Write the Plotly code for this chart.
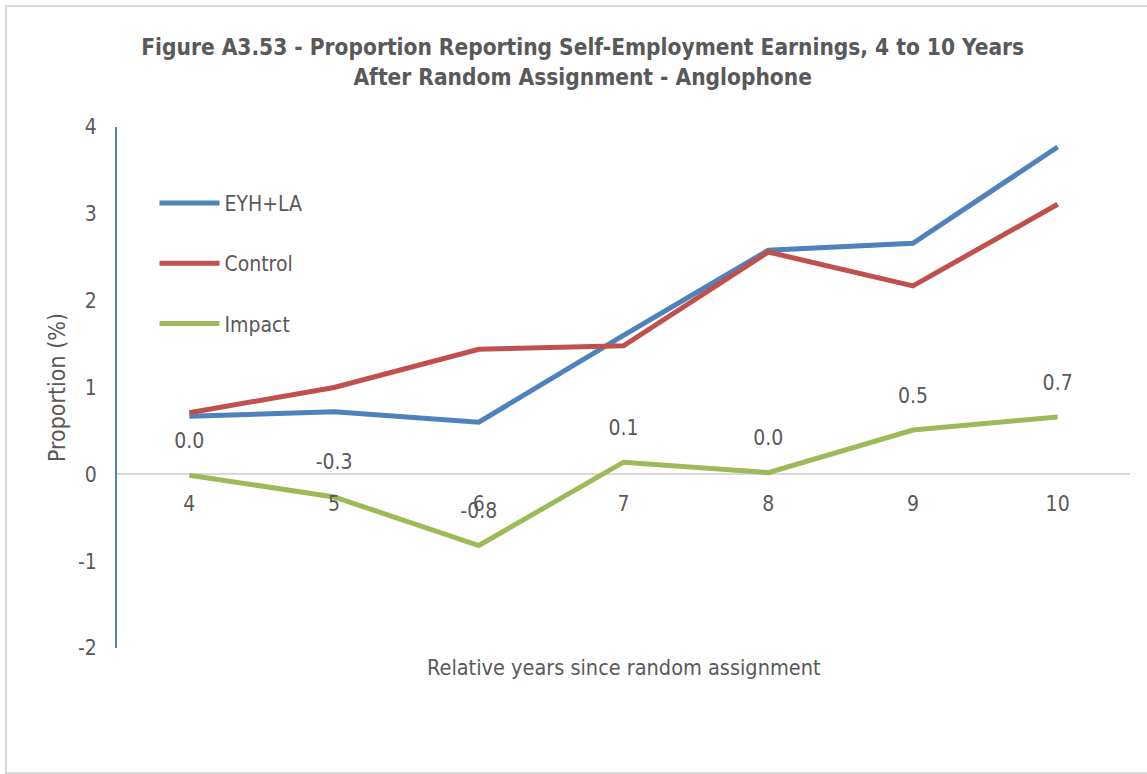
import plotly.graph_objects as go

years = [4, 5, 6, 7, 8, 9, 10]
eyh_la = [0.67, 0.72, 0.60, 1.60, 2.58, 2.66, 3.77]
control = [0.71, 1.00, 1.44, 1.48, 2.56, 2.17, 3.11]
impact = [-0.01, -0.26, -0.82, 0.14, 0.02, 0.51, 0.66]
impact_labels = [f"{round(v, 1) + 0.0:.1f}" for v in impact]
y_ticks = [-2, -1, 0, 1, 2, 3, 4]
y_ticktext = [str(v) for v in y_ticks]

FONT = "DejaVu Sans Condensed, Liberation Sans Narrow, sans-serif"
GREY = "#595959"

fig = go.Figure()
fig.add_trace(go.Scatter(x=years, y=eyh_la, mode="lines", name="EYH+LA",
                         line=dict(color="#4F81BD", width=5), legendgroup="a"))
fig.add_trace(go.Scatter(x=years, y=control, mode="lines", name="Control",
                         line=dict(color="#C0504D", width=5), legendgroup="b"))
fig.add_trace(go.Scatter(x=years, y=impact, mode="lines", name="Impact",
                         line=dict(color="#9BBB59", width=5), legendgroup="c"))
fig.add_trace(go.Scatter(x=years, y=impact, mode="markers+text", showlegend=False,
                         marker=dict(size=34, opacity=0, color="#9BBB59"),
                         text=impact_labels, textposition="top center",
                         textfont=dict(family=FONT, size=21, color=GREY),
                         hoverinfo="skip"))

fig.update_layout(
    width=1147, height=774,
    paper_bgcolor="white", plot_bgcolor="white",
    margin=dict(l=117, r=17, t=127, b=126),
    font=dict(family=FONT, color=GREY, size=20),
    title=dict(text="<b>Figure A3.53 - Proportion Reporting Self-Employment Earnings, 4 to 10 Years<br>After Random Assignment - Anglophone</b>",
               x=0.508, xanchor="center", y=0.9285, yanchor="middle",
               font=dict(family=FONT, size=22.5, color=GREY)),
    showlegend=True,
    legend=dict(x=0.037, y=0.893, xanchor="left", yanchor="top",
                bgcolor="rgba(0,0,0,0)", font=dict(size=21, color=GREY),
                traceorder="grouped", tracegroupgap=30, itemwidth=60),
    xaxis=dict(range=[3.5, 10.5], tickmode="array", tickvals=years,
               ticktext=[str(y) for y in years], showgrid=False, showline=False,
               zeroline=False, anchor="free", position=1/3,
               ticks="outside", ticklen=10, tickcolor="rgba(0,0,0,0)",
               tickfont=dict(size=21, color=GREY)),
    yaxis=dict(range=[-2, 4], tickmode="array", tickvals=y_ticks, ticktext=y_ticktext,
               showgrid=False, zeroline=True,
               zerolinecolor="#D9D9D9", zerolinewidth=2,
               showline=True, linecolor="#4F81BD", linewidth=2,
               ticks="outside", ticklen=14, tickcolor="rgba(0,0,0,0)",
               tickfont=dict(size=21, color=GREY),
               title=dict(text="Proportion (%)", standoff=6,
                          font=dict(size=23, color=GREY))),
    shapes=[dict(type="rect", xref="paper", yref="paper",
                 x0=(6 - 117) / 1013, x1=(1152 - 117) / 1013,
                 y0=(648 - 773) / 521, y1=(648 - 6) / 521,
                 line=dict(color="#D9D9D9", width=2), fillcolor="rgba(0,0,0,0)")],
    annotations=[dict(text="Relative years since random assignment",
                      xref="paper", yref="paper", x=0.5, y=-19 / 521,
                      xanchor="center", yanchor="middle", showarrow=False,
                      font=dict(size=21.5, color=GREY))],
)

fig.write_html("out.html", config={"displayModeBar": False},
               post_script="document.body.style.margin='0';")
